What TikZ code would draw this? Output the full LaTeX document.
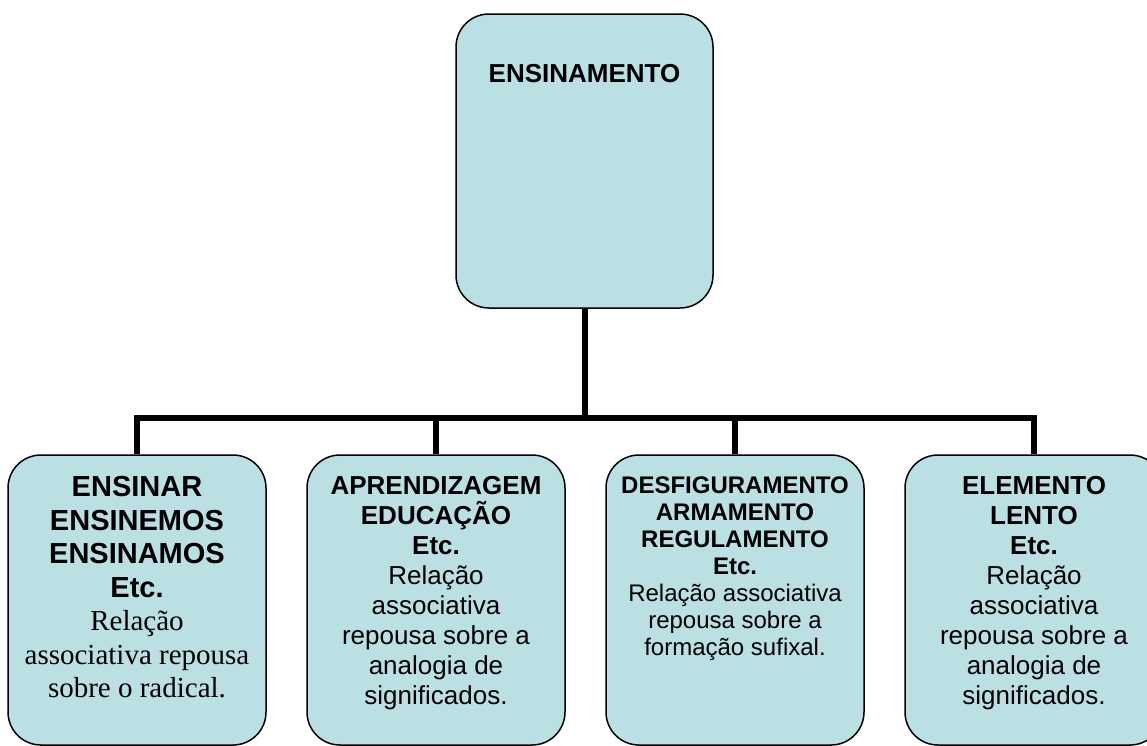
\documentclass[tikz,border=0pt]{standalone}
\usepackage{fontspec}
\setmainfont{Liberation Serif}
\setsansfont{Liberation Sans}
\usetikzlibrary{positioning}

\definecolor{caixa}{RGB}{186,224,228}
\newcommand{\cab}[1]{{\sffamily\bfseries #1}}

\begin{document}
\begin{tikzpicture}[x=1pt, y=-1pt, node distance=22pt,
  boxe/.style={draw, line width=1.5pt, fill=caixa, rounded corners=33pt,
    minimum width=258pt, minimum height=290pt, inner sep=0pt},
  rotulo/.style={align=center, inner sep=0pt, anchor=north},
  fio/.style={line width=6pt}]
  \useasboundingbox (0,0) rectangle (1147,745);
  \clip (0,0) rectangle (1147,745);

  % caixa de cima
  \node[boxe, minimum width=257pt, minimum height=294pt] (topo) at (584.5,161) {};
  \node[rotulo, below=51pt of topo.north, font=\fontsize{26}{30}\selectfont] (ttopo) {\cab{ENSINAMENTO}};

  % caixas de baixo
  \node[boxe] (b1) at (137,600) {};
  \node[boxe] (b2) at (436,600) {};
  \node[boxe] (b3) at (735,600) {};
  \node[boxe] (b4) at (1034,600) {};

  \node[rotulo, below=of b1.north, font=\fontsize{29}{33.5}\selectfont] (t1)
    {\cab{ENSINAR}\\ \cab{ENSINEMOS}\\ \cab{ENSINAMOS}\\ \cab{Etc.}\\
     Relação\\ associativa repousa\\ sobre o radical.};
  \node[rotulo, below=of b2.north, font=\sffamily\fontsize{26}{30}\selectfont] (t2)
    {\cab{APRENDIZAGEM}\\ \cab{EDUCAÇÃO}\\ \cab{Etc.}\\
     Relação\\ associativa\\ repousa sobre a\\ analogia de\\ significados.};
  \node[rotulo, below=of b3.north, font=\sffamily\fontsize{24}{27}\selectfont] (t3)
    {\cab{DESFIGURAMENTO}\\ \cab{ARMAMENTO}\\ \cab{REGULAMENTO}\\ \cab{Etc.}\\
     Relação associativa\\ repousa sobre a\\ formação sufixal.};
  \node[rotulo, below=of b4.north, font=\sffamily\fontsize{26}{30}\selectfont] (t4)
    {\cab{ELEMENTO}\\ \cab{LENTO}\\ \cab{Etc.}\\
     Relação\\ associativa\\ repousa sobre a\\ analogia de\\ significados.};

  % ligacoes
  \coordinate (hub) at (584.5,418);
  \draw[fio] (topo.south) -- (hub);
  \draw[fio] (b1.north) |- (hub) -| (b4.north);
  \draw[fio] (b2.north) -- (b2.north |- hub);
  \draw[fio] (b3.north) -- (b3.north |- hub);
\end{tikzpicture}
\end{document}
